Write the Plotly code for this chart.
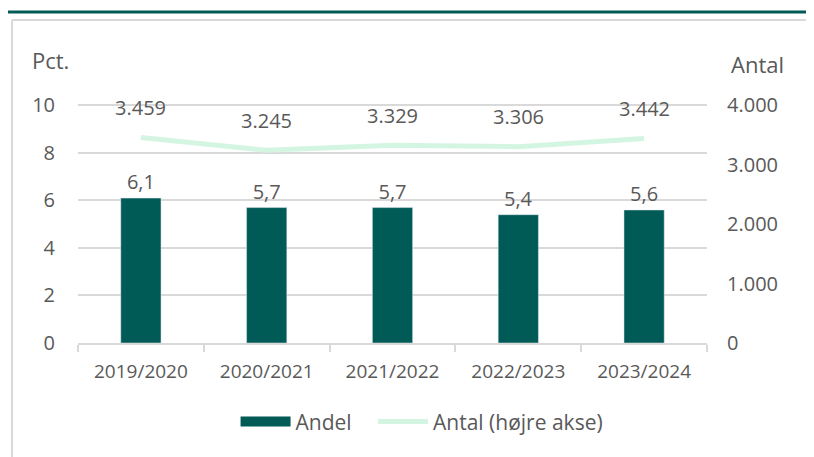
import plotly.graph_objects as go

categories = ["2019/2020", "2020/2021", "2021/2022", "2022/2023", "2023/2024"]
andel = [6.1, 5.7, 5.7, 5.4, 5.6]
antal = [3459, 3245, 3329, 3306, 3442]
left_ticks = [0, 2, 4, 6, 8, 10]
right_ticks = [0, 1000, 2000, 3000, 4000]
right_tick_labels = ["0", "1.000", "2.000", "3.000", "4.000"]

BAR = "#005a55"
LINE = "#d5f5e3"
TXT = "#595959"
GRID = "#d9d9d9"
FONT = "Open Sans"

fig = go.Figure()
fig.add_trace(go.Bar(
    x=categories, y=andel, name="Andel", marker_color=BAR, showlegend=False,
    text=[f"{v:.1f}".replace(".", ",") for v in andel], textposition="outside",
    textfont=dict(size=20, color=TXT, family=FONT), cliponaxis=False,
))
# legend swatch for the bars (wide rectangle like the original)
fig.add_trace(go.Scatter(
    x=[None], y=[None], name="Andel\u00a0\u00a0\u00a0", mode="lines",
    line=dict(color=BAR, width=13), legendrank=1,
))
fig.add_trace(go.Scatter(
    x=categories, y=antal, name="Antal (højre akse)", yaxis="y2", mode="lines",
    line=dict(color=LINE, width=5), legendrank=2,
))
for c, v in zip(categories, antal):
    fig.add_annotation(x=c, y=v, yref="y2", text=f"{v:,}".replace(",", "."),
                       showarrow=False, yshift=30,
                       font=dict(size=20, color=TXT, family=FONT))

fig.add_annotation(xref="paper", yref="paper", x=-0.043, y=1.184, text="Pct.",
                   showarrow=False, xanchor="center", yanchor="middle",
                   font=dict(size=22, color=TXT, family=FONT))
fig.add_annotation(xref="paper", yref="paper", x=1.08, y=1.167, text="Antal",
                   showarrow=False, xanchor="center", yanchor="middle",
                   font=dict(size=22, color=TXT, family=FONT))

# frame lines
fig.add_shape(type="line", xref="paper", yref="paper", x0=-0.121, x1=1.2, y0=1.385, y1=1.385,
              line=dict(color=BAR, width=3))
fig.add_shape(type="line", xref="paper", yref="paper", x0=-0.105, x1=1.2, y0=1.351, y1=1.351,
              line=dict(color=GRID, width=2))
fig.add_shape(type="line", xref="paper", yref="paper", x0=-0.105, x1=-0.105, y0=1.351, y1=-0.6,
              line=dict(color=GRID, width=2))

# page has an 8px body margin, so the figure is offset by 8px; size/margins compensate
fig.update_layout(
    width=806, height=449,
    margin=dict(l=70, r=107, t=96, b=114),
    paper_bgcolor="white", plot_bgcolor="white",
    separators=",.",
    font=dict(family=FONT, color=TXT, size=19),
    bargap=0.68,
    showlegend=True,
    legend=dict(orientation="h", x=0.547, xanchor="center", y=-0.33, yanchor="middle",
                font=dict(size=21, color=TXT, family=FONT), itemwidth=50,
                traceorder="normal"),
    xaxis=dict(showline=True, linecolor=GRID, linewidth=2, ticks="outside",
               tickson="boundaries", ticklen=7, tickcolor=GRID, tickwidth=2,
               ticklabelstandoff=10,
               tickfont=dict(size=19, color=TXT, family=FONT), showgrid=False),
    yaxis=dict(range=[0, 10.06], tickvals=left_ticks, showgrid=True, gridcolor=GRID,
               gridwidth=1.5, zeroline=False, ticklabelstandoff=22,
               tickfont=dict(size=20, color=TXT, family=FONT)),
    yaxis2=dict(range=[0, 4024], overlaying="y", side="right", tickvals=right_ticks,
                ticktext=right_tick_labels, showgrid=False, zeroline=False,
                ticklabelstandoff=19, tickfont=dict(size=20, color=TXT, family=FONT)),
)

fig.write_html("out.html")
